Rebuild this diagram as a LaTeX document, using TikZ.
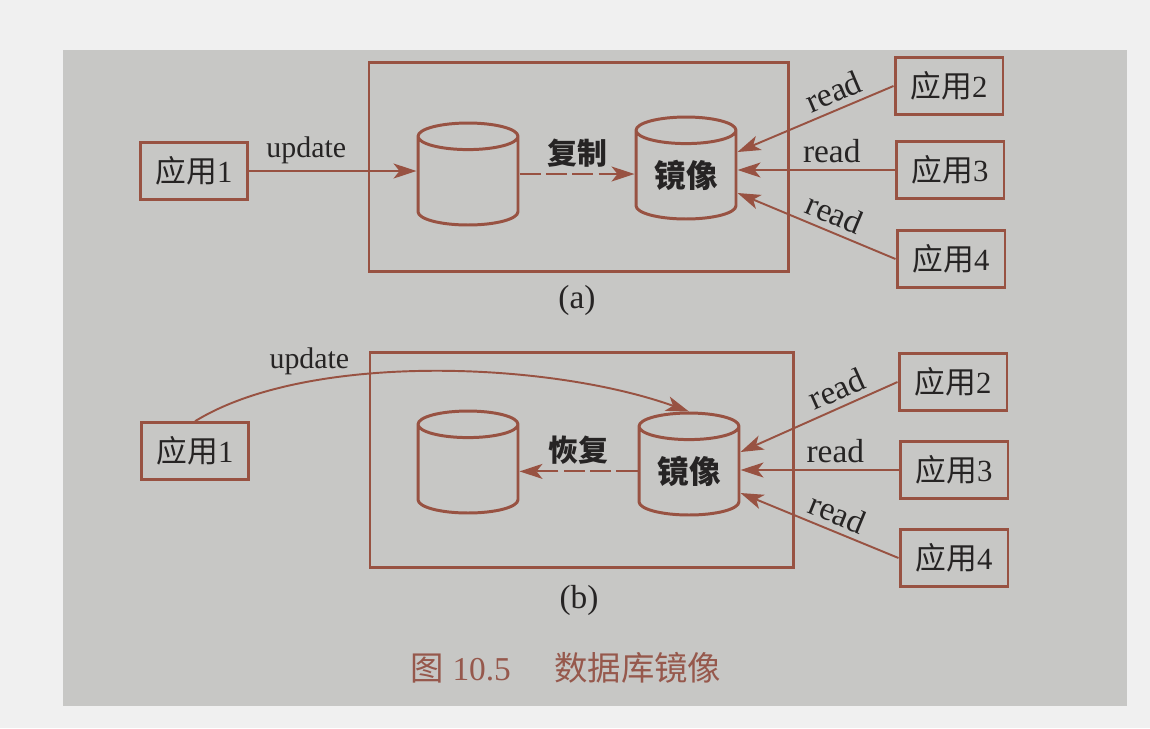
\documentclass[tikz,border=0pt]{standalone}
\usepackage{fontspec}
\setmainfont{Liberation Serif}
\newfontfamily\cjk{Noto Sans CJK SC}
\usetikzlibrary{shapes.geometric}
\usetikzlibrary{arrows.meta}
\usetikzlibrary{calc}
\definecolor{ln}{RGB}{152,82,66}
\definecolor{cap}{RGB}{150,88,76}
\definecolor{paper}{RGB}{199,199,197}
\definecolor{outside}{RGB}{240,240,240}
\definecolor{ink}{RGB}{38,36,36}

\begin{document}
\begin{tikzpicture}[x=0.02cm,y=-0.02cm,>/.tip={Stealth[length=4.6mm,width=3mm,inset=1.2mm]},
  every node/.style={text=ink,font=\fontsize{17}{20}\selectfont},
  app/.style={draw=ln,line width=1.7pt,minimum width=2.16cm,minimum height=1.13cm,inner sep=0pt,font=\fontsize{17.5}{20}\selectfont},
  db/.style={draw=ln,line width=1.7pt,cylinder,shape border rotate=90,aspect=0.42,minimum width=2cm,minimum height=2.04cm,inner sep=0pt,anchor=shape center,font=\fontsize{18}{20}\selectfont\cjk\bfseries},
  rd/.style={draw=ln,line width=1.1pt},
  lbl/.style={font=\fontsize{19}{22}\selectfont},
  frame/.style={draw=ln,line width=1.7pt}]
\useasboundingbox[fill=outside] (0,0) rectangle (1150,728);
\fill[paper] (63,50) rectangle (1127,706);
\draw[frame] (369,62) rectangle (788,271);
\draw[frame] (370,352) rectangle (793,567);
\draw (468,174) node[db] (c1a) {\phantom{镜像}};
\draw (686,168) node[db] (c2a) {镜像};
\draw (468,462) node[db] (c1b) {\phantom{镜像}};
\draw (689,464) node[db] (c2b) {镜像};
\draw (194,171) node[app] (a1) {{\cjk 应用}1};
\draw (195,451) node[app] (b1) {{\cjk 应用}1};
\foreach \p/\i/\x/\y in {a/2/949/86,a/3/950/170,a/4/951/259,b/2/953/382,b/3/954/470,b/4/954/558}
  \draw (\x,\y) node[app] (\p\i) {{\cjk 应用}\i};
\foreach \p in {a,b} {
  \draw[rd,<-] ($(c2\p.east |- \p3.west)+(0,-18)$) -- (\p2.west) node[lbl,pos=0.66,above,sloped] {read};
  \draw[rd,<-] (c2\p.east |- \p3.west) -- (\p3.west) node[lbl,pos=0.6,above] {read};
  \draw[rd,<-] ($(c2\p.east |- \p3.west)+(0,23)$) -- (\p4.west) node[lbl,pos=0.57,above,sloped] {read};
}
\draw[rd,->] (a1.east) -- (c1a.west |- a1.east) node[pos=0.34,above] {update};
\draw[rd,->] (b1.north) .. controls (307,352) and (548,361) .. (c2b.north) node[pos=0.27,above] {update};
\draw[rd,->,dash pattern=on 12pt off 3pt] (c1a.east |- c1a.shape center) -- (c2a.west |- c1a.shape center) node[midway,above] {\cjk\bfseries 复制};
\draw[rd,->,dash pattern=on 12pt off 3pt] (c2b.west) -- (c1b.east |- c2b.west) node[midway,above] {\cjk\bfseries 恢复};
\draw (577,300) node[lbl] (la) {(a)};
\draw (579,600) node[lbl] (lb) {(b)};
\draw (566,668) node[text=cap,font=\fontsize{19}{22}\selectfont] (fig) {{\cjk 图} 10.5\hspace{1.3em}{\cjk 数据库镜像}};
\end{tikzpicture}
\end{document}
